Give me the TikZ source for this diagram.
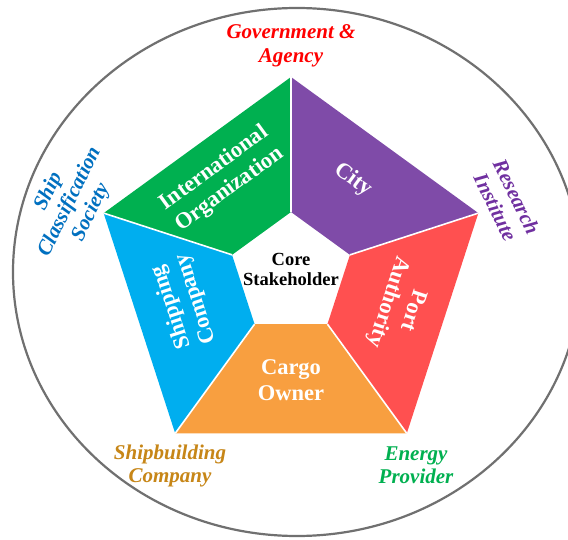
\documentclass[tikz,border=0pt]{standalone}
\usepackage{fontspec}
\setmainfont{Liberation Serif}
\usetikzlibrary{calc}

\definecolor{segGreen}{HTML}{00B050}
\definecolor{segPurple}{HTML}{7F4BA8}
\definecolor{segRed}{HTML}{FF5050}
\definecolor{segOrange}{HTML}{F89F40}
\definecolor{segBlue}{HTML}{00AEEF}
\definecolor{ringGray}{HTML}{707070}
\definecolor{txtRed}{HTML}{FF0000}
\definecolor{txtBlue}{HTML}{0070C0}
\definecolor{txtPurple}{HTML}{7030A0}
\definecolor{txtGreen}{HTML}{00B050}
\definecolor{txtGold}{HTML}{C78617}

\begin{document}
\begin{tikzpicture}[x=1pt,y=1pt,
  ring/.style={draw=ringGray, line width=2.2pt},
  spoke/.style={draw=white, line width=1.6pt},
  seglabel/.style={text=white, inner sep=0pt, align=center,
    font=\fontsize{22.5}{26}\selectfont\bfseries},
  corelabel/.style={text=black, inner sep=0pt, align=center,
    font=\fontsize{18.5}{20}\selectfont\bfseries},
  outerlabel/.style={inner sep=0pt, align=center,
    font=\fontsize{21}{23.5}\selectfont\bfseries\itshape},
]
\useasboundingbox (0,0) rectangle (568,539);
\fill[white] (0,0) rectangle (568,539);

% outer ring
\begin{scope}
  \clip (0,0) rectangle (568,539);
  \draw[ring] (297,267) ellipse [x radius=284, y radius=264];
\end{scope}

% pentagon geometry
\coordinate (O) at (291,265);
\foreach \n/\a in {1/90, 2/162, 3/234, 4/306, 5/18} {
  \coordinate (P\n) at ($(O)+(\a:197)$);
  \coordinate (Q\n) at ($(O)+(\a:62)$);
}

% segments
\fill[segGreen]  (P1) -- (P2) -- (Q2) -- (Q1) -- cycle;
\fill[segBlue]   (P2) -- (P3) -- (Q3) -- (Q2) -- cycle;
\fill[segOrange] (P3) -- (P4) -- (Q4) -- (Q3) -- cycle;
\fill[segRed]    (P4) -- (P5) -- (Q5) -- (Q4) -- cycle;
\fill[segPurple] (P5) -- (P1) -- (Q1) -- (Q5) -- cycle;

% white separators
\foreach \n in {1,...,5} { \draw[spoke] (P\n) -- (Q\n); }

% segment labels
\node[seglabel, rotate=36]   (intl)  at (222,360) {International\\Organization};
\node[seglabel, rotate=-36]  (city)  at (353,359) {City};
\node[seglabel, rotate=-108] (port)  at (400,233) {Port\\Authority};
\node[seglabel]              (cargo) at (291,159) {Cargo\\Owner};
\node[seglabel, rotate=108]  (ship)  at (184,236) {Shipping\\Company};
\node[corelabel]             (core)  at (291,270) {Core\\Stakeholder};

% surrounding stakeholders
\node[outerlabel, text=txtRed]              (gov)    at (291,493) {Government \&\\Agency};
\node[outerlabel, text=txtPurple, rotate=-64] (res)  at (506,337) {Research\\Institute};
\node[outerlabel, text=txtGreen]            (energy) at (416,74)  {Energy\\Provider};
\node[outerlabel, text=txtGold]             (yard)   at (170,73)  {Shipbuilding\\Company};
\node[outerlabel, text=txtBlue, rotate=64]  (class)  at (70,337)  {Ship\\Classification\\Society};
\end{tikzpicture}
\end{document}
